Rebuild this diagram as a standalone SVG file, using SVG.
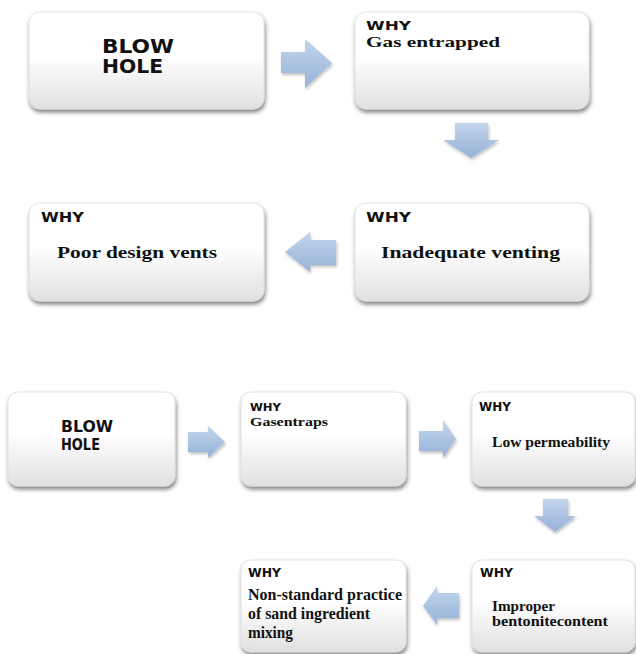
<svg xmlns="http://www.w3.org/2000/svg" width="636" height="654" viewBox="0 0 636 654">
<style>
.box{fill:url(#boxg);stroke:#dcdcdc;stroke-width:0.8;filter:url(#sh)}
.arr{fill:url(#arrg);filter:url(#ash)}
.sans{font-family:"DejaVu Sans","Liberation Sans",sans-serif;font-weight:bold;fill:#111}
.serif{font-family:"Liberation Serif","Times New Roman",serif;font-weight:bold;fill:#111}
</style>
<defs>
<linearGradient id="boxg" x1="0" y1="0" x2="0" y2="1">
<stop offset="0" stop-color="#ffffff"/>
<stop offset="0.45" stop-color="#ffffff"/>
<stop offset="1" stop-color="#e0e0e0"/>
</linearGradient>
<linearGradient id="arrg" x1="0" y1="0" x2="0" y2="1">
<stop offset="0" stop-color="#c3d5ec"/>
<stop offset="1" stop-color="#95b2d8"/>
</linearGradient>
<filter id="sh" x="-10%" y="-10%" width="125%" height="130%">
<feDropShadow dx="1" dy="3" stdDeviation="2" flood-color="#000" flood-opacity="0.5"/>
</filter>
<filter id="ash" x="-20%" y="-20%" width="150%" height="150%">
<feDropShadow dx="1" dy="2" stdDeviation="1.5" flood-color="#000" flood-opacity="0.25"/>
</filter>
</defs>

<g id="connectors">
<polygon class="arr" points="281,52 305,52 305,39 332,63 305,88 305,73 281,73"/>
<polygon class="arr" points="455,123 488,123 488,140 499,140 471,158 443,140 455,140"/>
<polygon class="arr" points="336,240 310,240 310,232 285,252 310,272 310,265 336,265"/>
<polygon class="arr" points="188,432 208,432 208,426 225,442 208,458 208,452 188,452"/>
<polygon class="arr" points="419,431 443,431 443,420 456,439 443,458 443,451 419,451"/>
<polygon class="arr" points="543,499 568,499 568,516 576,516 555,532 534,516 543,516"/>
<polygon class="arr" points="459,593 437,593 437,586 423,606 437,625 437,618 459,618"/>
</g>

<g id="n1">
<rect class="box" x="29" y="12" width="235" height="97" rx="11"/>
<text class="sans" x="102" y="53" font-size="19" textLength="72" lengthAdjust="spacingAndGlyphs">BLOW</text>
<text class="sans" x="102" y="73" font-size="19" textLength="61" lengthAdjust="spacingAndGlyphs">HOLE</text>
</g>
<g id="n2">
<rect class="box" x="355" y="12" width="234" height="97" rx="11"/>
<text class="sans" x="366" y="30" font-size="13" textLength="45" lengthAdjust="spacingAndGlyphs">WHY</text>
<text class="serif" x="366" y="47" font-size="15" textLength="134" lengthAdjust="spacingAndGlyphs">Gas entrapped</text>
</g>
<g id="n3">
<rect class="box" x="355" y="203" width="234" height="98" rx="11"/>
<text class="sans" x="366" y="222" font-size="14" textLength="45" lengthAdjust="spacingAndGlyphs">WHY</text>
<text class="serif" x="381" y="258" font-size="17" textLength="179" lengthAdjust="spacingAndGlyphs">Inadequate venting</text>
</g>
<g id="n4">
<rect class="box" x="29" y="203" width="235" height="98" rx="11"/>
<text class="sans" x="41" y="222" font-size="14" textLength="43" lengthAdjust="spacingAndGlyphs">WHY</text>
<text class="serif" x="57" y="258" font-size="17" textLength="160" lengthAdjust="spacingAndGlyphs">Poor design vents</text>
</g>

<g id="n5">
<rect class="box" x="8" y="392" width="167" height="94" rx="10"/>
<text class="sans" x="61" y="432" font-size="16" textLength="52" lengthAdjust="spacingAndGlyphs">BLOW</text>
<text class="sans" x="61" y="450" font-size="16" textLength="39" lengthAdjust="spacingAndGlyphs">HOLE</text>
</g>
<g id="n6">
<rect class="box" x="241" y="392" width="165" height="94" rx="10"/>
<text class="sans" x="250" y="411" font-size="11" textLength="31" lengthAdjust="spacingAndGlyphs">WHY</text>
<text class="serif" x="250" y="426" font-size="13" textLength="78" lengthAdjust="spacingAndGlyphs">Gasentraps</text>
</g>
<g id="n7">
<rect class="box" x="472" y="392" width="163" height="94" rx="10"/>
<text class="sans" x="479" y="411" font-size="12" textLength="32" lengthAdjust="spacingAndGlyphs">WHY</text>
<text class="serif" x="492" y="447" font-size="15" textLength="118" lengthAdjust="spacingAndGlyphs">Low permeability</text>
</g>
<g id="n8">
<rect class="box" x="472" y="560" width="163" height="92" rx="10"/>
<text class="sans" x="480" y="577" font-size="12" textLength="33" lengthAdjust="spacingAndGlyphs">WHY</text>
<text class="serif" x="492" y="611" font-size="15" textLength="63" lengthAdjust="spacingAndGlyphs">Improper</text>
<text class="serif" x="492" y="626" font-size="15" textLength="116" lengthAdjust="spacingAndGlyphs">bentonitecontent</text>
</g>
<g id="n9">
<rect class="box" x="241" y="560" width="165" height="92" rx="10"/>
<text class="sans" x="248" y="577" font-size="12" textLength="33" lengthAdjust="spacingAndGlyphs">WHY</text>
<text class="serif" x="248" y="600" font-size="16" textLength="154" lengthAdjust="spacingAndGlyphs">Non-standard practice</text>
<text class="serif" x="248" y="619" font-size="16" textLength="122" lengthAdjust="spacingAndGlyphs">of sand ingredient</text>
<text class="serif" x="248" y="638" font-size="16" textLength="45" lengthAdjust="spacingAndGlyphs">mixing</text>
</g>
</svg>
